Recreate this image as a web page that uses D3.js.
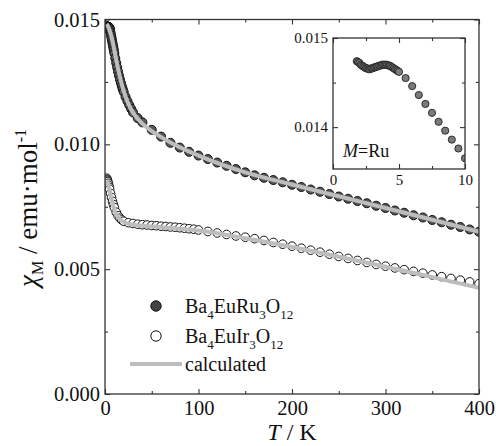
<!DOCTYPE html>
<html>
<head>
<meta charset="utf-8">
<script src="https://cdn.jsdelivr.net/npm/d3@7"></script>
<style>
  body { margin: 0; background: #fff; }
  text { font-family: "Liberation Serif", "DejaVu Serif", serif; fill: #111; }
</style>
</head>
<body>
<svg id="chart" width="496" height="446"></svg>
<script>
// measured chi_M (emu/mol) vs T (K)
var ruT = [1.8, 1.9, 2.0, 2.1, 2.2, 2.3, 2.4, 2.5, 2.6, 2.7, 2.8, 2.9, 3.0, 3.1, 3.2, 3.3, 3.4, 3.5, 3.6, 3.7, 3.8, 3.9, 4.0,
  4.1, 4.2, 4.3, 4.4, 4.5, 4.6, 4.7, 4.8, 4.9, 5.0, 5.5, 6, 6.5, 7, 7.5, 8, 8.5, 9, 9.5, 10,
  11, 12, 13, 14, 15, 16, 17, 18, 19, 20, 22, 24, 26, 28, 30, 35, 40, 50, 60, 70, 80, 90, 100,
  110, 120, 130, 140, 150, 160, 170, 180, 190, 200, 210, 220, 230, 240, 250, 260, 270, 280, 290, 300,
  310, 320, 330, 340, 350, 360, 370, 380, 390, 400];
var ruChi = [0.01474, 0.01473, 0.01472, 0.01470, 0.01469, 0.01468, 0.01467, 0.01466, 0.01466, 0.01465, 0.01465, 0.01466, 0.01466,
  0.01467, 0.01467, 0.01468, 0.01468, 0.01469, 0.01469, 0.01470, 0.01470, 0.01470, 0.01470,
  0.01470, 0.01469, 0.01469, 0.01468, 0.01467, 0.01466, 0.01465, 0.01464, 0.01463, 0.01462,
  0.01455, 0.01446, 0.01436, 0.01426, 0.01416, 0.01406, 0.01396, 0.01386, 0.01376, 0.01365,
  0.01345, 0.01326, 0.01308, 0.01291, 0.01275, 0.01260, 0.01246, 0.01233, 0.01221, 0.01210,
  0.01190, 0.01173, 0.01157, 0.01142, 0.01128, 0.01105, 0.01088, 0.01058, 0.01031, 0.01006,
  0.00987, 0.00970, 0.00955, 0.00941, 0.00927, 0.00914, 0.00901, 0.00888, 0.00876, 0.00866,
  0.00857, 0.00848, 0.00838, 0.00829, 0.00819, 0.00810, 0.00801, 0.00791, 0.00782, 0.00773,
  0.00764, 0.00754, 0.00745, 0.00735, 0.00726, 0.00716, 0.00707, 0.00697, 0.00688, 0.00678,
  0.00669, 0.00659, 0.00650];

var irT = [1.8, 2.2, 2.6, 3.0, 3.5, 4, 4.5, 5, 6, 7, 8, 9, 10, 12, 14, 16, 18, 20, 25, 30, 35, 40, 45, 50,
  55, 60, 65, 70, 75, 80, 85, 90, 95, 100, 110, 120, 130, 140, 150, 160, 170, 180, 190, 200,
  210, 220, 230, 240, 250, 260, 270, 280, 290, 300, 310, 320, 330, 340, 350, 360, 370, 380, 390, 400];
var irChi = [0.00864, 0.00860, 0.00856, 0.00851, 0.00844, 0.00836, 0.00828, 0.00820, 0.00803, 0.00787, 0.00772,
  0.00759, 0.00747, 0.00728, 0.00714, 0.00704, 0.00697, 0.00692, 0.00686, 0.00683, 0.00680, 0.00678,
  0.00677, 0.00675, 0.00674, 0.00672, 0.00671, 0.00669, 0.00668, 0.00666, 0.00664, 0.00662, 0.00660,
  0.00657, 0.00651, 0.00645, 0.00639, 0.00633, 0.00628, 0.00622, 0.00615, 0.00607, 0.00600, 0.00592,
  0.00584, 0.00576, 0.00568, 0.00560, 0.00551, 0.00543, 0.00535, 0.00527, 0.00519, 0.00512, 0.00505,
  0.00498, 0.00491, 0.00484, 0.00477, 0.00470, 0.00463, 0.00456, 0.00449, 0.00442];

// calculated curves
var calcT = [1.8, 2.5, 3, 4, 5, 6, 7, 8, 10, 12, 15, 20, 25, 30, 40, 50, 60, 80, 100, 150, 200, 250, 300, 350, 400];
var calcRu = [0.01482, 0.01478, 0.01474, 0.01466, 0.01456, 0.01444, 0.01430, 0.01414, 0.01378, 0.01338, 0.01285,
  0.01213, 0.01162, 0.01127, 0.01083, 0.01053, 0.01029, 0.00988, 0.00955, 0.00888, 0.00839, 0.00792,
  0.00745, 0.00698, 0.00650];
var calcIr = [0.00855, 0.00850, 0.00845, 0.00832, 0.00815, 0.00797, 0.00780, 0.00765, 0.00738, 0.00720, 0.00704,
  0.00689, 0.00682, 0.00678, 0.00674, 0.00671, 0.00668, 0.00662, 0.00655, 0.00624, 0.00589, 0.00550,
  0.00510, 0.00468, 0.00425];

var xMajor = [0, 100, 200, 300, 400];
var xMinor = [50, 150, 250, 350];
var yMajor = [0, 0.005, 0.010, 0.015];
var yMinor = [0.0025, 0.0075, 0.0125];
var insetXMajor = [0, 5, 10];
var insetXMinor = [2.5, 7.5];
var insetYMajor = [0.014, 0.015];
var insetYMinor = [0.0145];

var lineColor = '#bdbdbd';
var axisColor = '#333';
var serif = '"Liberation Serif", "DejaVu Serif", serif';

var svg = d3.select('#chart');

var x = d3.scaleLinear().domain([0, 400]).range([105, 479]);
var y = d3.scaleLinear().domain([0, 0.015]).range([394, 19.5]);
var ix = d3.scaleLinear().domain([0, 10]).range([333, 465]);
var iy = d3.scaleLinear().domain([0.01353, 0.015]).range([169, 38]);

function noLabel() { return ''; }

function styleAxis(g, size) {
  g.select('.domain').remove();
  g.attr('font-family', serif).attr('font-size', size);
  g.selectAll('line').attr('stroke', axisColor).attr('stroke-width', 1.1);
  g.selectAll('text').attr('font-size', size).attr('fill', '#111').attr('font-family', serif);
}

function drawAxes(xs, ys, xMaj, xMin, yMaj, yMin, yFmt, fontSize, padX, padY) {
  var x0 = xs.range()[0], x1 = xs.range()[1];
  var y0 = ys.range()[0], y1 = ys.range()[1];

  var xSides = [[d3.axisBottom, y0, d3.format('d'), padX], [d3.axisTop, y1, noLabel, 0]];
  xSides.forEach(function (a) {
    svg.append('g').attr('transform', 'translate(0,' + a[1] + ')')
      .call(a[0](xs).tickValues(xMaj).tickSize(-5).tickPadding(a[3]).tickFormat(a[2]))
      .call(styleAxis, fontSize);
    svg.append('g').attr('transform', 'translate(0,' + a[1] + ')')
      .call(a[0](xs).tickValues(xMin).tickSize(-3).tickFormat(noLabel))
      .call(styleAxis, fontSize);
  });

  var ySides = [[d3.axisLeft, x0, yFmt, padY], [d3.axisRight, x1, noLabel, 0]];
  ySides.forEach(function (a) {
    svg.append('g').attr('transform', 'translate(' + a[1] + ',0)')
      .call(a[0](ys).tickValues(yMaj).tickSize(-5).tickPadding(a[3]).tickFormat(a[2]))
      .call(styleAxis, fontSize);
    svg.append('g').attr('transform', 'translate(' + a[1] + ',0)')
      .call(a[0](ys).tickValues(yMin).tickSize(-3).tickFormat(noLabel))
      .call(styleAxis, fontSize);
  });

  svg.append('rect')
    .attr('x', x0).attr('y', y1)
    .attr('width', x1 - x0).attr('height', y0 - y1)
    .attr('fill', 'none')
    .attr('stroke', axisColor)
    .attr('stroke-width', 1.3);
}

// clip regions
var defs = svg.append('defs');
defs.append('clipPath').attr('id', 'mainClip').append('rect')
  .attr('x', 105).attr('y', 19.5).attr('width', 374).attr('height', 374.5);
defs.append('clipPath').attr('id', 'insetClip').append('rect')
  .attr('x', 333).attr('y', 38).attr('width', 132).attr('height', 131);

// main plot data
var plot = svg.append('g').attr('clip-path', 'url(#mainClip)');

plot.selectAll('circle.ru')
  .data(ruT)
  .enter().append('circle')
  .attr('class', 'ru')
  .attr('cx', function (d) { return x(d); })
  .attr('cy', function (d, i) { return y(ruChi[i]); })
  .attr('r', 4.5)
  .attr('fill', '#575757')
  .attr('stroke', '#111')
  .attr('stroke-width', 1);

plot.selectAll('circle.ir')
  .data(irT)
  .enter().append('circle')
  .attr('class', 'ir')
  .attr('cx', function (d) { return x(d); })
  .attr('cy', function (d, i) { return y(irChi[i]); })
  .attr('r', 4.3)
  .attr('fill', '#fff')
  .attr('stroke', '#111')
  .attr('stroke-width', 1);

var calcLine = d3.line().curve(d3.curveMonotoneX);
[calcRu, calcIr].forEach(function (vals) {
  plot.append('path')
    .attr('d', calcLine(calcT.map(function (t, i) { return [x(t), y(vals[i])]; })))
    .attr('fill', 'none')
    .attr('stroke', lineColor)
    .attr('stroke-width', 4)
    .attr('stroke-linecap', 'butt');
});

drawAxes(x, y, xMajor, xMinor, yMajor, yMinor, d3.format('.3f'), 20.5, 6, 5);

// axis titles
var xt = svg.append('text')
  .attr('x', 292).attr('y', 440)
  .attr('text-anchor', 'middle')
  .attr('font-size', 24);
xt.append('tspan').attr('font-style', 'italic').text('T');
xt.append('tspan').text(' / K');

var yt = svg.append('text')
  .attr('transform', 'translate(37,208) rotate(-90)')
  .attr('text-anchor', 'middle')
  .attr('font-size', 27);
yt.append('tspan').attr('font-style', 'italic').text('χ');
yt.append('tspan').attr('font-size', 16).attr('dy', 6).text('M');
yt.append('tspan').attr('dy', -6).text(' / emu·mol');
yt.append('tspan').attr('font-size', 16).attr('dy', -11).text('-1');

// legend
svg.append('circle').attr('cx', 156).attr('cy', 306).attr('r', 5.2)
  .attr('fill', '#444').attr('stroke', '#111').attr('stroke-width', 1);
svg.append('circle').attr('cx', 156).attr('cy', 336).attr('r', 5.2)
  .attr('fill', '#fff').attr('stroke', '#111').attr('stroke-width', 1);
svg.append('line').attr('x1', 130).attr('x2', 182).attr('y1', 364).attr('y2', 364)
  .attr('stroke', lineColor).attr('stroke-width', 4);

function formula(yPos, parts) {
  var t = svg.append('text').attr('x', 185).attr('y', yPos).attr('font-size', 20);
  var shift = 0;
  parts.forEach(function (p) {
    var sub = p[1];
    var want = sub ? 6 : 0;
    t.append('tspan')
      .attr('dy', want - shift)
      .attr('font-size', sub ? 13 : 20)
      .text(p[0]);
    shift = want;
  });
}
formula(313, [['Ba', 0], ['4', 1], ['EuRu', 0], ['3', 1], ['O', 0], ['12', 1]]);
formula(343, [['Ba', 0], ['4', 1], ['EuIr', 0], ['3', 1], ['O', 0], ['12', 1]]);
svg.append('text').attr('x', 185).attr('y', 371).attr('font-size', 20).text('calculated');

// inset
svg.append('rect').attr('x', 333).attr('y', 38).attr('width', 132).attr('height', 131).attr('fill', '#fff');

var inset = svg.append('g').attr('clip-path', 'url(#insetClip)');
inset.selectAll('circle')
  .data(ruT.filter(function (t) { return t <= 10; }))
  .enter().append('circle')
  .attr('cx', function (d) { return ix(d); })
  .attr('cy', function (d, i) { return iy(ruChi[i]); })
  .attr('r', 3.6)
  .attr('fill', '#7a7a7a')
  .attr('stroke', '#222')
  .attr('stroke-width', 0.9);

drawAxes(ix, iy, insetXMajor, insetXMinor, insetYMajor, insetYMinor, d3.format('.3f'), 15, 5, 5);

var mt = svg.append('text').attr('x', 343).attr('y', 157).attr('font-size', 18);
mt.append('tspan').attr('font-style', 'italic').text('M');
mt.append('tspan').text('=Ru');
</script>
</body>
</html>
